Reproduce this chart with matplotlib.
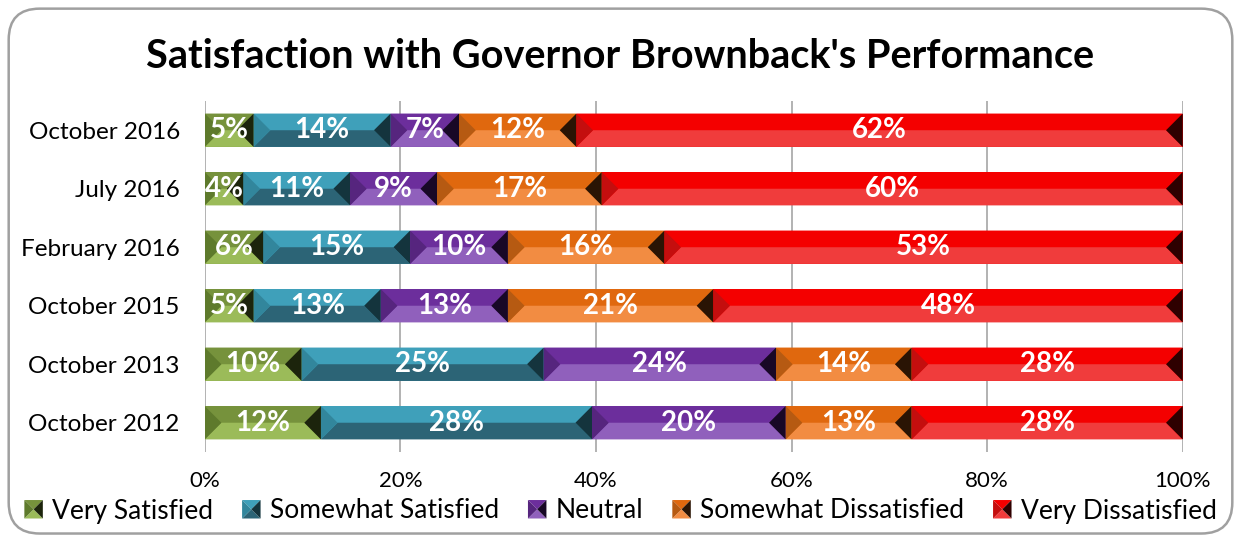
import matplotlib
matplotlib.use("Agg")
import matplotlib.pyplot as plt
from matplotlib.patches import Polygon, FancyBboxPatch
from matplotlib.legend_handler import HandlerBase
import numpy as np

plt.rcParams['font.family'] = ['Lato', 'DejaVu Sans']

categories = ['October 2016', 'July 2016', 'February 2016', 'October 2015',
              'October 2013', 'October 2012']
series_names = ['Very Satisfied', 'Somewhat Satisfied', 'Neutral',
                'Somewhat Dissatisfied', 'Very Dissatisfied']
very_satisfied = [5, 4, 6, 5, 10, 12]
somewhat_satisfied = [14, 11, 15, 13, 25, 28]
neutral = [7, 9, 10, 13, 24, 20]
somewhat_dissatisfied = [12, 17, 16, 21, 14, 13]
very_dissatisfied = [62, 60, 53, 48, 28, 28]
xticks = [0, 20, 40, 60, 80, 100]

# top face, bottom face, left bevel, right bevel
palette = [
    ('#76923C', '#9BBB59', '#5E7A2C', '#1C240C'),
    ('#3FA0BA', '#2C6476', '#32869C', '#14343D'),
    ('#6C2E9C', '#9060BC', '#56257E', '#180826'),
    ('#E0680E', '#F28C42', '#B65A12', '#2A1404'),
    ('#F40000', '#F03C3C', '#C40E0E', '#2E0000'),
]

data = np.array([very_satisfied, somewhat_satisfied, neutral,
                 somewhat_dissatisfied, very_dissatisfied], dtype=float)
totals = data.sum(axis=0)
shares = data / totals * 100

fig = plt.figure(figsize=(12.41, 5.40), dpi=100)
ax = fig.add_axes([0.165, 0.163, 0.788, 0.650])

y = np.arange(len(categories))
left = np.zeros(len(categories))
bar_h = 0.57
bevel = 1.7

def draw_bevel(ax, x0, w, yc, h, cols):
    top, bottom, lcol, rcol = cols
    b = min(bevel, w / 2)
    y0, y1 = yc - h / 2, yc + h / 2
    # inverted y axis: y0 is visually the top
    ax.add_patch(Polygon([(x0, y0), (x0 + w, y0), (x0 + w - b, yc), (x0 + b, yc)],
                         closed=True, facecolor=top, edgecolor='none', zorder=3))
    ax.add_patch(Polygon([(x0, y1), (x0 + w, y1), (x0 + w - b, yc), (x0 + b, yc)],
                         closed=True, facecolor=bottom, edgecolor='none', zorder=3))
    ax.add_patch(Polygon([(x0, y0), (x0 + b, yc), (x0, y1)],
                         closed=True, facecolor=lcol, edgecolor='none', zorder=3))
    ax.add_patch(Polygon([(x0 + w, y0), (x0 + w - b, yc), (x0 + w, y1)],
                         closed=True, facecolor=rcol, edgecolor='none', zorder=3))

for i, name in enumerate(series_names):
    bars = ax.barh(y, shares[i], left=left, height=bar_h, color=palette[i][0],
                   edgecolor='none', zorder=2, label=name)
    for j, rect in enumerate(bars):
        draw_bevel(ax, rect.get_x(), rect.get_width(),
                   rect.get_y() + rect.get_height() / 2, rect.get_height(), palette[i])
        ax.text(rect.get_x() + rect.get_width() / 2, y[j], f'{int(data[i, j])}%',
                ha='center', va='center', color='white', fontsize=20,
                fontweight='bold', zorder=5)
    left += shares[i]

ax.set_xlim(0, 100)
ax.set_ylim(len(categories) - 0.5, -0.5)
ax.set_yticks(y)
ax.set_yticklabels(categories, fontsize=17.5)
ax.set_xticks(xticks)
ax.set_xticklabels([f'{t}%' for t in xticks], fontsize=16)
ax.tick_params(axis='both', length=0)
ax.tick_params(axis='y', pad=18)
ax.tick_params(axis='x', pad=14)
ax.grid(axis='x', color='#A6A6A6', linewidth=1.2, zorder=0)
ax.set_axisbelow(True)
for s in ax.spines.values():
    s.set_visible(False)

fig.text(0.5, 1 - 56 / 540, "Satisfaction with Governor Brownback's Performance",
         ha='center', va='center', fontsize=28.5, fontweight='bold')


class BevelProxy:
    def __init__(self, cols):
        self.cols = cols


class BevelHandler(HandlerBase):
    def create_artists(self, legend, orig_handle, xdescent, ydescent, width,
                       height, fontsize, trans):
        top, bottom, lcol, rcol = orig_handle.cols
        s = min(width, height) * 1.0
        x0 = width - s - xdescent
        y0 = -ydescent + (height - s) / 2
        cx, cy = x0 + s / 2, y0 + s / 2
        pts = [
            ([(x0, y0 + s), (x0 + s, y0 + s), (cx, cy)], top),
            ([(x0, y0), (x0 + s, y0), (cx, cy)], bottom),
            ([(x0, y0), (x0, y0 + s), (cx, cy)], lcol),
            ([(x0 + s, y0), (x0 + s, y0 + s), (cx, cy)], rcol),
        ]
        arts = []
        for p, c in pts:
            poly = Polygon(p, closed=True, facecolor=c, edgecolor='none', transform=trans)
            arts.append(poly)
        return arts


proxies = [BevelProxy(palette[i]) for i in range(len(series_names))]
fig.legend(proxies, series_names, loc='center', bbox_to_anchor=(0.5, 1 - 511 / 540),
           ncol=5, frameon=False, fontsize=19, handlelength=0.7, handleheight=0.7,
           handletextpad=0.35, columnspacing=1.1, borderpad=0,
           handler_map={BevelProxy: BevelHandler()})

frame = FancyBboxPatch((0.007, 0.012), 0.986, 0.972, transform=fig.transFigure,
                       boxstyle='round,pad=0,rounding_size=0.025', facecolor='none',
                       edgecolor='#A0A0A0', linewidth=1.8, mutation_aspect=2.3)
fig.add_artist(frame)

fig.savefig('out.png', dpi=100)
